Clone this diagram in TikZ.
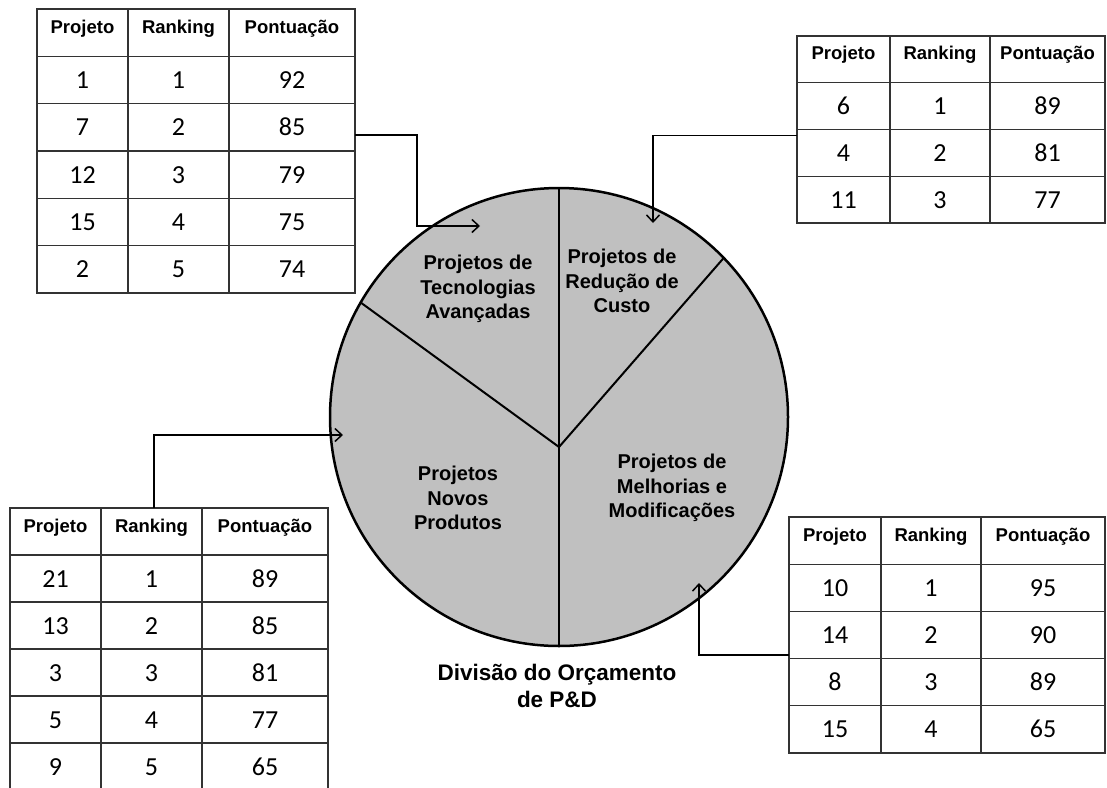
\documentclass[tikz,border=0pt]{standalone}
\usepackage{fontspec}
\setmainfont{Liberation Sans}
\newfontfamily\numf{Carlito}
\usetikzlibrary{arrows.meta}
\definecolor{piegrey}{HTML}{C0C0C0}
\newcommand\hdrfont{\bfseries\fontsize{18.5}{20}\selectfont}
\newcommand\numfont{\numf\fontsize{26}{28}\selectfont}
% #1 prefix, #2..#5 column borders, #6 top, #7 row height, #8 data
\newcommand\ptable[8]{%
  \pgfmathsetmacro\wA{#3-#2}\pgfmathsetmacro\wB{#4-#3}\pgfmathsetmacro\wC{#5-#4}%
  \foreach \a/\b/\c [count=\r] in {#8}{%
    \pgfmathsetmacro\yy{#6+(\r-1)*#7}%
    \ifnum\r=1 \def\cs{hdrcell}\else\def\cs{numcell}\fi
    \node[cell, \cs, minimum width=\wA pt, minimum height=#7 pt] (#1-\r-1) at (#2,\yy) {\a};
    \node[cell, \cs, minimum width=\wB pt, minimum height=#7 pt] (#1-\r-2) at (#3,\yy) {\b};
    \node[cell, \cs, minimum width=\wC pt, minimum height=#7 pt] (#1-\r-3) at (#4,\yy) {\c};
  }%
}
\begin{document}
\begin{tikzpicture}[x=1pt,y=-1pt,
  cell/.style={draw=black!80, line width=1.2pt, inner sep=0pt, outer sep=0pt, anchor=north west},
  hdrcell/.style={font=\hdrfont, text height=13pt, text depth=12pt},
  numcell/.style={font=\numfont, text height=17pt, text depth=0pt},
  conn/.style={draw=black, line width=1.9pt, -{Straight Barb[length=7pt,width=13pt,line width=1.5pt]}},
  spoke/.style={draw=black, line width=2pt},
  plabel/.style={align=center, font=\bfseries\fontsize{20}{24.5}\selectfont, inner sep=0pt},
]
\useasboundingbox (0,0) rectangle (1107,787);
\clip (0,0) rectangle (1107,787);
\fill[white] (0,0) rectangle (1107,787);

% pie
\node[circle, fill=piegrey, minimum size=458pt, inner sep=0pt, outer sep=0pt] (pie) at (559,417) {};
\draw[line width=2.5pt] (pie.center) circle[radius=229pt];
\coordinate (hub) at (559,447);
\draw[spoke] (pie.90) -- (hub) -- (pie.270);
\draw[spoke] (pie.150.6) -- (hub) -- (pie.44.5);

\node[plabel] (tec) at (478,289) {Projetos de\\Tecnologias\\Avançadas};
\node[plabel] (red) at (622,281) {Projetos de\\Redução de\\Custo};
\node[plabel] (nov) at (458,498) {Projetos\\Novos\\Produtos};
\node[plabel] (mel) at (672,488) {Projetos de\\Melhorias e\\Modificações};

\node[align=center, font=\bfseries\fontsize{22.5}{27}\selectfont, inner sep=0pt] (title) at (557,686) {Divisão do Orçamento\\de P\&D};

% tables
\ptable{ta}{37}{128}{229}{355}{9}{47.33}{Projeto/Ranking/Pontuação, 1/1/92, 7/2/85, 12/3/79, 15/4/75, 2/5/74}
\ptable{tb}{797}{890}{990}{1105}{36}{46.75}{Projeto/Ranking/Pontuação, 6/1/89, 4/2/81, 11/3/77}
\ptable{tc}{10}{101}{202}{328}{508}{47}{Projeto/Ranking/Pontuação, 21/1/89, 13/2/85, 3/3/81, 5/4/77, 9/5/65}
\ptable{td}{789}{881}{981}{1105}{517}{47.2}{Projeto/Ranking/Pontuação, 10/1/95, 14/2/90, 8/3/89, 15/4/65}

% connectors
\coordinate (k1) at (417,226);
\coordinate (e1) at (480,226);
\coordinate (e2) at (653,223);
\coordinate (e3) at (343,435);
\coordinate (e4) at (699,583);
\draw[conn] ([yshift=-8pt]ta-3-3.east) -| (k1) -- (e1);
\draw[conn] ([yshift=-6pt]tb-3-1.north west) -| (e2);
\draw[conn] ([xshift=2.5pt]tc-1-2.north) |- (e3);
\draw[conn] ([yshift=4pt]td-3-1.south west) -| (e4);
\end{tikzpicture}
\end{document}
